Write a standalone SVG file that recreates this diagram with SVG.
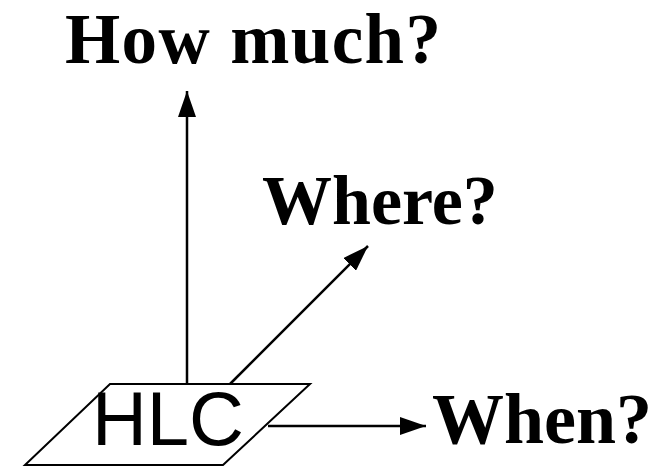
<svg xmlns="http://www.w3.org/2000/svg" width="660" height="466" viewBox="0 0 660 466">
<defs>
<marker id="ah" viewBox="0 0 26 18" refX="26" refY="9" markerWidth="26" markerHeight="18" markerUnits="userSpaceOnUse" orient="auto">
<path d="M0,0 L26,9 L0,18 Z" fill="#000"/>
</marker>
<style>
.lbl{font-family:"Liberation Serif","Times New Roman",serif;font-weight:bold;font-size:72px;fill:#000}
.conn{stroke:#000;stroke-width:2.5;fill:none}
</style>
</defs>
<rect width="660" height="466" fill="#fff"/>
<g id="connectors">
<line class="conn" x1="187" y1="384" x2="187" y2="91" marker-end="url(#ah)"/>
<line class="conn" x1="230" y1="384" x2="368" y2="246" marker-end="url(#ah)"/>
<line class="conn" x1="268" y1="426" x2="426" y2="426" marker-end="url(#ah)"/>
</g>
<g id="hlc">
<polygon points="110,384 310,384 223,465 25,465" fill="#fff" stroke="#000" stroke-width="2"/>
<text x="168" y="445" text-anchor="middle" font-family="Liberation Sans, Arial, sans-serif" font-size="76" fill="#000">HLC</text>
</g>
<g id="howmuch"><text class="lbl" x="65" y="63" style="font-size:71px" textLength="376" lengthAdjust="spacing">How much?</text></g>
<g id="where"><text class="lbl" x="262" y="224" style="font-size:70px">Where?</text></g>
<g id="when"><text class="lbl" x="432" y="443">When?</text></g>
</svg>
